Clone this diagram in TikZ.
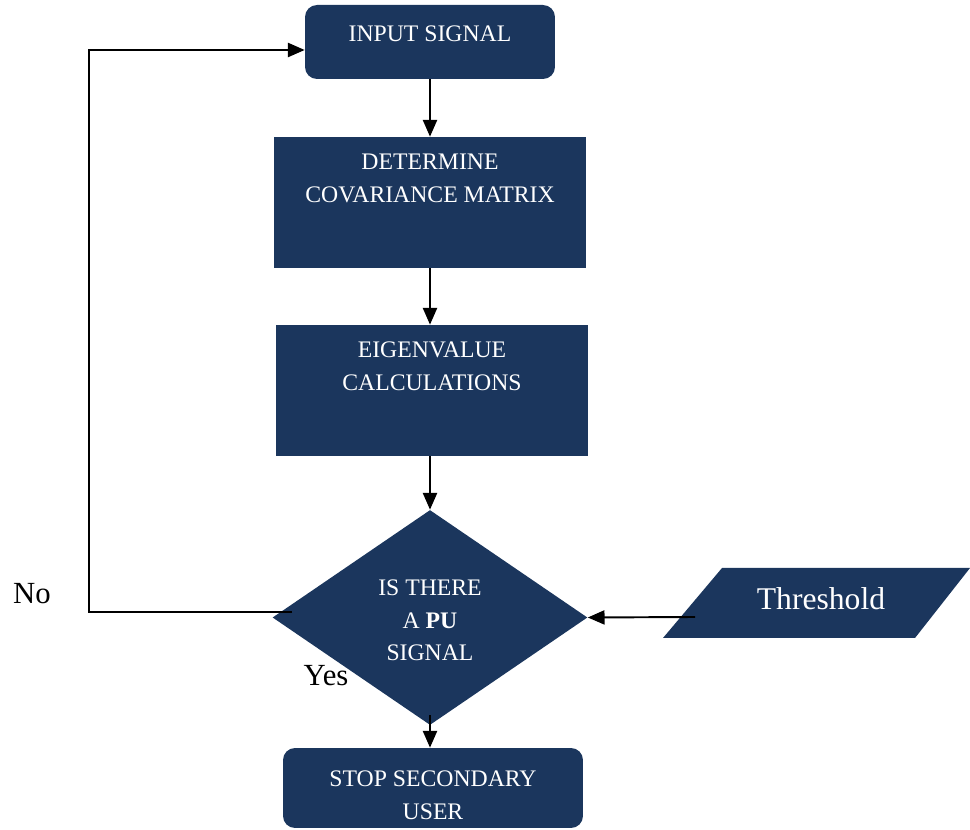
\documentclass[tikz,border=0pt]{standalone}
\usepackage{fontspec}
\setmainfont{Liberation Serif}
\usetikzlibrary{shapes.geometric,arrows.meta}
\definecolor{navy}{RGB}{27,54,93}
\newcommand\boxfont{\fontsize{13.5}{18.6}\selectfont}
\newcommand\bigfont{\fontsize{17.5}{21}\selectfont}

\begin{document}
\begin{tikzpicture}[x=0.02cm, y=-0.02cm,
    blk/.style={fill=navy, draw=none, inner sep=0pt},
    rbox/.style={blk, rounded corners=0.24cm},
    txt/.style={text=white, font=\boxfont, align=center, inner sep=0pt},
    arr/.style={-{Triangle[length=9.5pt,width=8pt]}, line width=1.1pt},
    lbl/.style={font=\bigfont, inner sep=0pt}]
    \useasboundingbox (0,0) rectangle (970,830);
    \clip (0,0) rectangle (970,830);

    % Process boxes
    \node[rbox, minimum width=5cm, minimum height=1.48cm] (inp) at (430,42) {};
    \node[txt] (inptxt) at (430,34) {INPUT SIGNAL};
    \node[blk, minimum width=6.24cm, minimum height=2.62cm] (cov) at (430,202.5) {};
    \node[txt] (covtxt) at (430,178.5) {DETERMINE\\COVARIANCE MATRIX};
    \node[blk, minimum width=6.24cm, minimum height=2.62cm] (eig) at (432,390.5) {};
    \node[txt] (eigtxt) at (432,366.5) {EIGENVALUE\\CALCULATIONS};

    % Decision and threshold
    \node[blk, diamond, minimum width=6.3cm, minimum height=4.3cm] (dec) at (430,617.5) {};
    \node[txt] (dectxt) at (430,620.5) {IS THERE\\A \textbf{PU}\\SIGNAL};
    \fill[navy] (663,638) -- (722,568) -- (970,568) -- (915,638) -- cycle;
    \node[text=white, inner sep=0pt, font=\fontsize{18}{21}\selectfont] (thr) at (821,599) {Threshold};
    \coordinate (thrin) at (695,617);
    \coordinate (loop) at (89,612);

    % Stop box
    \node[rbox, minimum width=6cm, minimum height=1.6cm] (stop) at (433,788) {};
    \node[txt] (stoptxt) at (433,795) {STOP SECONDARY\\USER};

    % Connectors
    \draw[arr] (inp.south) -- (inp.south |- cov.north);
    \draw[arr] (cov.south) -- (cov.south |- eig.north);
    \draw[arr] (eig.south -| dec.north) -- (dec.north);
    \draw[arr] ([yshift=0.2cm]dec.south) -- (dec.south |- stop.north);
    \draw[arr] (thrin) -- (dec.east);
    \draw[arr] ([xshift=0.4cm]loop -| dec.west) -- (loop) |- ([yshift=-0.16cm]inp.west);

    % Labels
    \node[lbl] (no) at (32,594) {No};
    \node[lbl] (yes) at (326,676) {Yes};
\end{tikzpicture}
\end{document}
